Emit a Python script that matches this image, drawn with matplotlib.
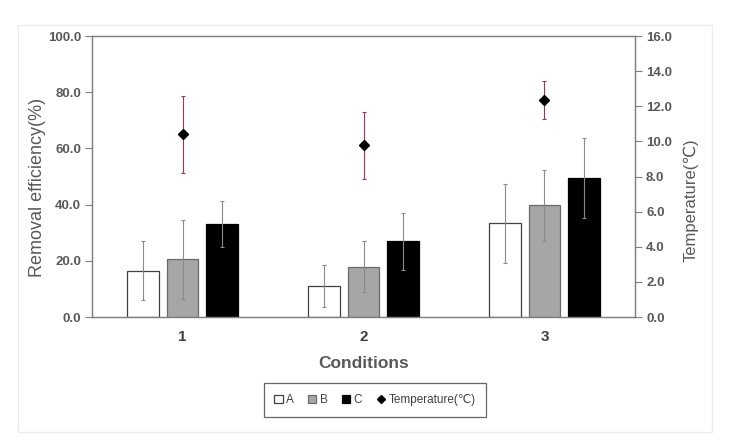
import numpy as np
import matplotlib
matplotlib.use("Agg")
import matplotlib.pyplot as plt
from matplotlib.patches import Rectangle
from matplotlib.lines import Line2D

# data
conditions = ["1", "2", "3"]
eff_a = [16.5, 11.0, 33.3]
eff_a_err = [10.4, 7.5, 14.0]
eff_b = [20.5, 17.9, 39.7]
eff_b_err = [14.0, 9.1, 12.5]
eff_c = [33.1, 26.9, 49.5]
eff_c_err = [8.2, 10.0, 14.2]
temp = [10.4, 9.78, 12.35]
temp_err = [2.2, 1.9, 1.1]

grey_txt = "#595959"
plt.rcParams["font.family"] = ["Liberation Sans", "DejaVu Sans"]

fig = plt.figure(figsize=(7.38, 4.4), dpi=100)
ax = fig.add_axes([0.1247, 0.2795, 0.7357, 0.6385])
ax2 = ax.twinx()

x = np.arange(len(conditions))
w = 0.176
step = 0.22
ekw = dict(ecolor="#8a8a8a", elinewidth=0.8, capsize=1.5, capthick=0.8)

ax.bar(x - step, eff_a, w, color="white", edgecolor="#404040", linewidth=0.9,
       yerr=eff_a_err, error_kw=ekw, label="A", zorder=2)
ax.bar(x, eff_b, w, color="#a6a6a6", edgecolor="#6a6a6a", linewidth=0.9,
       yerr=eff_b_err, error_kw=ekw, label="B", zorder=2)
ax.bar(x + step, eff_c, w, color="black", edgecolor="black", linewidth=0.9,
       yerr=eff_c_err, error_kw=ekw, label="C", zorder=2)

ax2.errorbar(x, temp, yerr=temp_err, fmt="D", color="black", markersize=5,
             ecolor="#a8305a", elinewidth=0.8, capsize=1.5, capthick=0.8)

ax.set_xlim(-0.5, 2.5)
ax.set_ylim(0, 100)
ax.set_yticks(np.arange(0, 101, 20))
ax.set_yticklabels([f"{v:.1f}" for v in np.arange(0, 101, 20)])
ax2.set_ylim(0, 16)
ax2.set_yticks(np.arange(0, 17, 2))
ax2.set_yticklabels([f"{v:.1f}" for v in np.arange(0, 17, 2)])

ax.set_xticks(x)
ax.set_xticklabels(conditions, fontsize=11, fontweight="bold", color="#404040")
ax.tick_params(axis="x", length=0, pad=9)
ax.tick_params(axis="y", direction="out", length=5, color="#808080",
               labelsize=9.5, labelcolor=grey_txt, pad=3)
ax2.tick_params(axis="y", direction="out", length=5, color="#808080",
                labelsize=9.5, labelcolor=grey_txt, pad=3)
for lab in ax.get_yticklabels() + ax2.get_yticklabels():
    lab.set_fontweight("bold")

for a in (ax, ax2):
    for s in a.spines.values():
        s.set_color("#808080")
        s.set_linewidth(0.9)

ax.set_ylabel("Removal efficiency(%)", fontsize=13, color=grey_txt, labelpad=1)
ax.yaxis.label.set_y(0.46)
ax2.set_ylabel("Temperature(\u2103)", fontsize=12, color=grey_txt, labelpad=8)
ax2.yaxis.label.set_y(0.416)
ax.set_xlabel("Conditions", fontsize=12.5, fontweight="bold", color=grey_txt, labelpad=9)

# legend at the bottom
h1, l1 = ax.get_legend_handles_labels()
temp_handle = Line2D([], [], marker="D", color="black", linestyle="none", markersize=4.5)
leg = fig.legend(h1 + [temp_handle], l1 + ["Temperature(\u2103)"], loc="center",
                 bbox_to_anchor=(0.508, 0.091), ncol=4, frameon=True, fancybox=False,
                 fontsize=8.5, handlelength=0.7, handleheight=0.7, handletextpad=0.3,
                 columnspacing=1.2, borderpad=0.9)
leg.get_frame().set_edgecolor("#404040")
leg.get_frame().set_linewidth(0.9)
for t in leg.get_texts():
    t.set_color("#404040")

# faint outer chart frame
fig.patches.append(Rectangle((18 / 738, 1 - 432 / 440), (712 - 18) / 738, (432 - 25) / 440,
                             transform=fig.transFigure, fill=False,
                             edgecolor="#ececec", linewidth=1.0))

fig.savefig("out.png", dpi=100)
